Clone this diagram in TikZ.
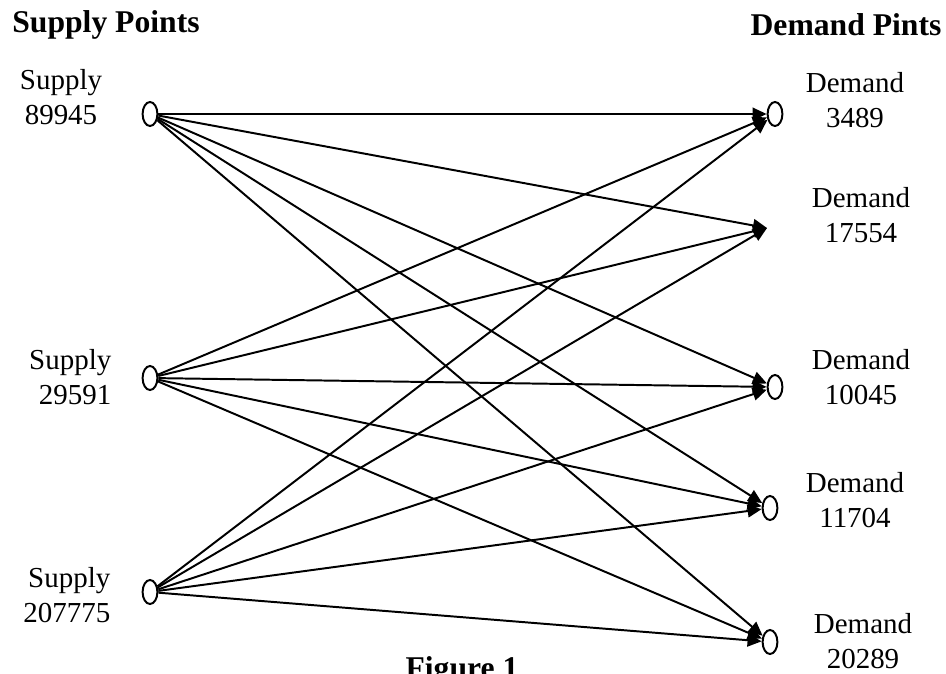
\documentclass[tikz,border=0pt]{standalone}
\usepackage{fontspec}
\setmainfont{Liberation Serif}
\usetikzlibrary{arrows.meta,shapes.geometric}

\begin{document}
\begin{tikzpicture}[x=0.025cm,y=-0.025cm,line width=1.4pt,
  font=\fontsize{20.6}{24.5}\selectfont,
  pt/.style={draw,ellipse,inner sep=0pt,minimum width=0.37cm,minimum height=0.6cm},
  flow/.style={-{Triangle[length=10pt,width=9pt]}},
  lbl/.style={align=center},
  head/.style={font=\fontsize{22.5}{26}\selectfont\bfseries}]
  \useasboundingbox (0,0) rectangle (946,673);

  \node[head] (hs) at (106,25) {Supply Points};
  \node[head] (hd) at (846,25) {Demand Pints};

  \node[pt] (s1) at (150,114) {};
  \node[pt] (s2) at (150,378) {};
  \node[pt] (s3) at (150,592) {};

  \node[pt] (d1) at (775,114) {};
  \coordinate (d2) at (767,228);
  \node[pt] (d3) at (775,387) {};
  \node[pt] (d4) at (770,508) {};
  \node[pt] (d5) at (770,642) {};

  \node[lbl] (ls1) at (61,97) {Supply\\89945};
  \node[align=right,anchor=east] (ls2) at (117,377) {Supply\\29591};
  \node[align=right,anchor=east] (ls3) at (116,595) {Supply\\207775};

  \node[lbl] (ld1) at (855,100) {Demand\\3489};
  \node[lbl] (ld2) at (861,215) {Demand\\17554};
  \node[lbl] (ld3) at (861,377) {Demand\\10045};
  \node[lbl] (ld4) at (855,500) {Demand\\11704};
  \node[lbl] (ld5) at (863,641) {Demand\\20289};

  % every supply point ships to every demand point
  \foreach \s in {s1,s2,s3}
    \foreach \d in {d1,d2,d3,d4,d5}
      \draw[flow] (\s) -- (\d);

  \node[head,anchor=base] (fig) at (462,678) {Figure 1};
\end{tikzpicture}
\end{document}
